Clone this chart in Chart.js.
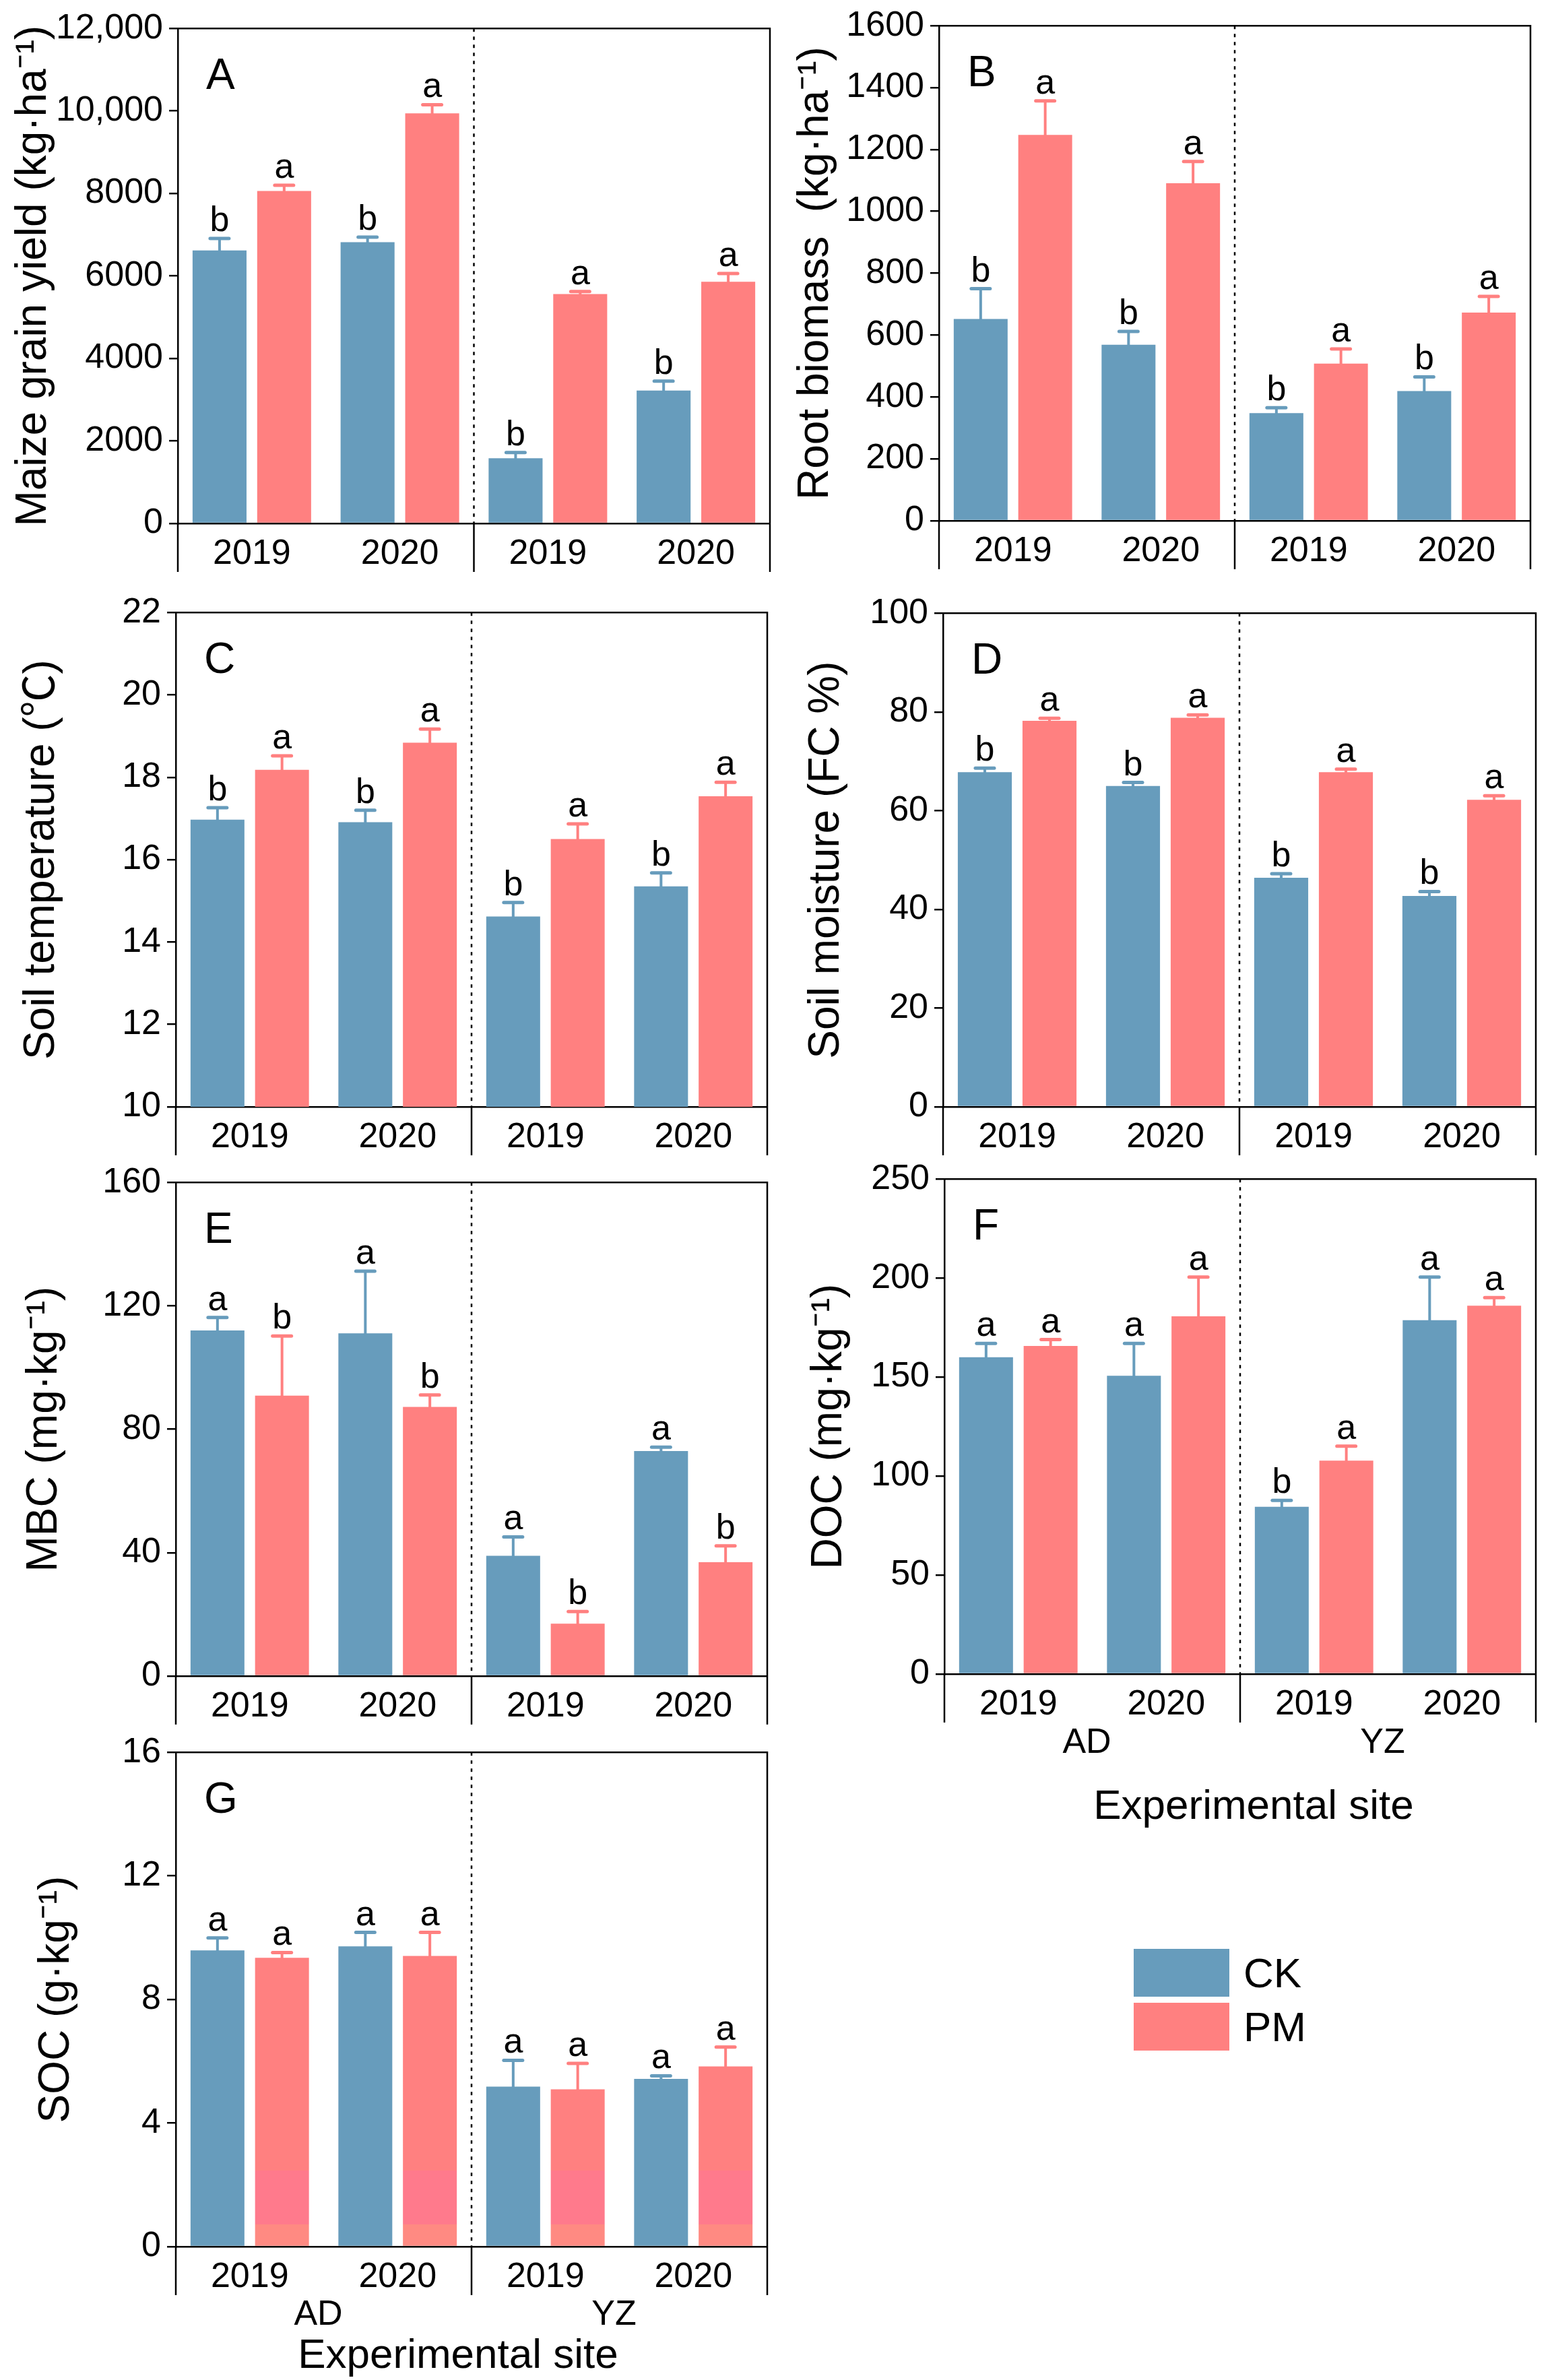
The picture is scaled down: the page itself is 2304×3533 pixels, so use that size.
<!doctype html>
<html lang="en">
<head>
<meta charset="UTF-8">
<title>CK vs PM - maize yield and soil properties</title>
<script src="https://cdn.jsdelivr.net/npm/chart.js"></script>
<style>
    body { margin: 0; background: #fff; }
    #page { position: relative; width: 2304px; height: 3533px; background: #fff; overflow: hidden; }
    #page canvas { position: absolute; }
    .key-box { position: absolute; width: 142px; height: 71px; }
    .key-text { position: absolute; font: 62px 'Liberation Sans', Arial, sans-serif; line-height: 62px; color: #000; }
</style>
</head>
<body>
<div id="page">
    <canvas id="chartA"></canvas>
    <canvas id="chartB"></canvas>
    <canvas id="chartC"></canvas>
    <canvas id="chartD"></canvas>
    <canvas id="chartE"></canvas>
    <canvas id="chartF"></canvas>
    <canvas id="chartG"></canvas>

    <!-- legend -->
    <div class="key-box" style="left:1683px;top:2893px;background:#679CBC"></div>
    <div class="key-box" style="left:1683px;top:2973px;background:#FF8080"></div>
    <div class="key-text" style="left:1846px;top:2898px">CK</div>
    <div class="key-text" style="left:1846px;top:2978px">PM</div>
</div>

<script>
    // ---- data ----
    const years = ['2019', '2020', '2019', '2020'];
    const sites = ['AD', 'YZ'];

    // A  maize grain yield
    const yieldCK = [6620, 6820, 1580, 3220];
    const yieldCKErr = [290, 120, 140, 230];
    const yieldPM = [8060, 9940, 5560, 5860];
    const yieldPMErr = [140, 210, 60, 200];
    const yieldCKSig = ['b', 'b', 'b', 'b'];
    const yieldPMSig = ['a', 'a', 'a', 'a'];
    const yieldTicks = [0, 2000, 4000, 6000, 8000, 10000, 12000];

    // B  root biomass
    const rootCK = [652, 569, 348, 419];
    const rootCKErr = [98, 43, 17, 46];
    const rootPM = [1247, 1091, 508, 673];
    const rootPMErr = [110, 70, 47, 52];
    const rootCKSig = ['b', 'b', 'b', 'b'];
    const rootPMSig = ['a', 'a', 'a', 'a'];
    const rootTicks = [0, 200, 400, 600, 800, 1000, 1200, 1400, 1600];

    // C  soil temperature
    const tempCK = [16.97, 16.91, 14.62, 15.35];
    const tempCKErr = [0.29, 0.29, 0.34, 0.33];
    const tempPM = [18.18, 18.84, 16.50, 17.54];
    const tempPMErr = [0.34, 0.33, 0.37, 0.34];
    const tempCKSig = ['b', 'b', 'b', 'b'];
    const tempPMSig = ['a', 'a', 'a', 'a'];
    const tempTicks = [10, 12, 14, 16, 18, 20, 22];

    // D  soil moisture
    const moistCK = [67.8, 65.0, 46.4, 42.7];
    const moistCKErr = [0.8, 0.7, 0.8, 0.9];
    const moistPM = [78.2, 78.8, 67.8, 62.2];
    const moistPMErr = [0.5, 0.6, 0.6, 0.8];
    const moistCKSig = ['b', 'b', 'b', 'b'];
    const moistPMSig = ['a', 'a', 'a', 'a'];
    const moistTicks = [0, 20, 40, 60, 80, 100];

    // E  MBC
    const mbcCK = [112.0, 111.1, 39.0, 72.9];
    const mbcCKErr = [4.2, 20.1, 6.1, 1.3];
    const mbcPM = [90.9, 87.2, 17.0, 36.9];
    const mbcPMErr = [19.3, 3.9, 3.9, 5.3];
    const mbcCKSig = ['a', 'a', 'a', 'a'];
    const mbcPMSig = ['b', 'b', 'b', 'b'];
    const mbcTicks = [0, 40, 80, 120, 160];

    // F  DOC
    const docCK = [160.0, 150.6, 84.5, 178.7];
    const docCKErr = [7.0, 16.4, 3.2, 21.8];
    const docPM = [165.7, 180.7, 107.8, 186.0];
    const docPMErr = [3.2, 19.8, 7.3, 4.1];
    const docCKSig = ['a', 'a', 'b', 'a'];
    const docPMSig = ['a', 'a', 'a', 'a'];
    const docTicks = [0, 50, 100, 150, 200, 250];

    // G  SOC
    const socCK = [9.59, 9.72, 5.18, 5.43];
    const socCKErr = [0.40, 0.45, 0.85, 0.10];
    const socPM = [9.35, 9.41, 5.09, 5.83];
    const socPMErr = [0.17, 0.76, 0.84, 0.63];
    const socCKSig = ['a', 'a', 'a', 'a'];
    const socPMSig = ['a', 'a', 'a', 'a'];
    const socTicks = [0, 4, 8, 12, 16];

    // ---- look ----
    const FONT = "'Liberation Sans', Arial, 'Noto Sans CJK SC', sans-serif";
    const BLUE = '#679CBC';
    const RED = '#FF8080';
    const LINE = 2.5;

    // error bars + significance letters
    const errorBars = {
        id: 'errorBars',
        afterDatasetsDraw(chart) {
            const ctx = chart.ctx;
            const y = chart.scales.y;
            chart.data.datasets.forEach((ds, i) => {
                chart.getDatasetMeta(i).data.forEach((bar, j) => {
                    const capY = y.getPixelForValue(ds.data[j] + ds.errors[j]);
                    ctx.save();
                    ctx.strokeStyle = ds.barColor;
                    ctx.lineCap = 'round';
                    ctx.lineWidth = 4;
                    ctx.beginPath();
                    ctx.moveTo(bar.x, bar.y);
                    ctx.lineTo(bar.x, capY);
                    ctx.stroke();
                    ctx.lineWidth = 5;
                    ctx.beginPath();
                    ctx.moveTo(bar.x - 14, capY);
                    ctx.lineTo(bar.x + 14, capY);
                    ctx.stroke();
                    ctx.fillStyle = '#000';
                    ctx.font = '52px ' + FONT;
                    ctx.textAlign = 'center';
                    ctx.textBaseline = 'alphabetic';
                    ctx.fillText(ds.sig[j], bar.x, capY - 11);
                    ctx.restore();
                });
            });
        }
    };

    // box, site divider, panel letter, site labels
    const frame = {
        id: 'frame',
        afterDraw(chart, args, opts) {
            const ctx = chart.ctx;
            const a = chart.chartArea;
            const x = chart.scales.x;
            const mid = x.getPixelForValue(1.5);
            ctx.save();
            ctx.strokeStyle = '#000';
            ctx.lineWidth = LINE;
            ctx.beginPath();
            ctx.moveTo(a.left, a.top);
            ctx.lineTo(a.right, a.top);
            ctx.lineTo(a.right, a.bottom);
            ctx.stroke();
            // group dividers below the axis
            [a.left, mid, a.right].forEach(px => {
                ctx.beginPath();
                ctx.moveTo(px, a.bottom);
                ctx.lineTo(px, a.bottom + 72);
                ctx.stroke();
            });
            // dotted separator
            ctx.setLineDash([5, 7]);
            ctx.beginPath();
            ctx.moveTo(mid, a.top);
            ctx.lineTo(mid, a.bottom);
            ctx.stroke();
            ctx.setLineDash([]);

            ctx.fillStyle = '#000';
            ctx.font = '64px ' + FONT;
            ctx.textAlign = 'left';
            ctx.textBaseline = 'middle';
            ctx.fillText(opts.letter, a.left + 42, a.top + 72);

            if (opts.siteLabels) {
                ctx.font = '52px ' + FONT;
                ctx.textAlign = 'center';
                ctx.fillText(sites[0], (a.left + mid) / 2 - 8, a.bottom + opts.siteDy);
                ctx.fillText(sites[1], (mid + a.right) / 2 - 8, a.bottom + opts.siteDy);
                ctx.font = '62px ' + FONT;
                ctx.fillText('Experimental site', (a.left + a.right) / 2 + opts.expDx, a.bottom + opts.expDy);
            }
            ctx.restore();
        }
    };

    // G: the PM bars carry a faint pink band near the base
    function socPMFill(c) {
        const chart = c.chart;
        const y = chart.scales.y;
        if (!chart.chartArea || !y) return RED;
        const y0 = y.getPixelForValue(0);
        const g = chart.ctx.createLinearGradient(0, y0, 0, y.getPixelForValue(16));
        g.addColorStop(0, '#FF8A82');
        g.addColorStop(0.045, '#FF8A82');
        g.addColorStop(0.045, '#FF7A8C');
        g.addColorStop(0.154, '#FF7A8C');
        g.addColorStop(0.154, RED);
        g.addColorStop(1, RED);
        return g;
    }

    function makePanel(p) {
        const canvas = document.getElementById(p.id);
        const y0 = p.T - 40;
        const h = (p.canvasBottom || (p.B + 110)) - y0;
        const x0 = p.L < 1152 ? 0 : 1152;
        canvas.width = 1152;
        canvas.height = h;
        canvas.style.left = x0 + 'px';
        canvas.style.top = y0 + 'px';
        canvas.style.width = '1152px';
        canvas.style.height = h + 'px';
        const xH = 80;

        return new Chart(canvas, {
            type: 'bar',
            data: {
                labels: years,
                datasets: [
                    { label: 'CK', data: p.ck, errors: p.ckErr, sig: p.ckSig,
                      backgroundColor: BLUE, barColor: BLUE },
                    { label: 'PM', data: p.pm, errors: p.pmErr, sig: p.pmSig,
                      backgroundColor: p.pmFill || RED, barColor: RED }
                ]
            },
            options: {
                responsive: false,
                animation: false,
                devicePixelRatio: 1,
                categoryPercentage: 0.873,
                barPercentage: 0.835,
                layout: {
                    autoPadding: false,
                    padding: { left: 0, top: p.T - y0, right: x0 + 1152 - p.R, bottom: h - (p.B - y0) - xH }
                },
                plugins: {
                    legend: { display: false },
                    tooltip: { enabled: false },
                    frame: { letter: p.letter, siteLabels: p.siteLabels, siteDy: p.siteDy, expDy: p.expDy, expDx: p.expDx }
                },
                scales: {
                    x: {
                        grid: { display: false },
                        border: { display: true, color: '#000', width: LINE },
                        ticks: { color: '#000', font: { family: FONT, size: 52 }, padding: 6, maxRotation: 0, autoSkip: false },
                        afterFit: s => { s.height = xH; }
                    },
                    y: {
                        min: p.ticks[0],
                        max: p.ticks[p.ticks.length - 1],
                        afterBuildTicks: s => { s.ticks = p.ticks.map(v => ({ value: v })); },
                        grid: { drawOnChartArea: false, drawTicks: true, tickLength: 13, color: '#000', lineWidth: LINE },
                        border: { display: true, color: '#000', width: LINE },
                        ticks: {
                            color: '#000', padding: 9, font: { family: FONT, size: 52 },
                            callback: v => v >= 10000 ? v.toLocaleString('en-US') : v
                        },
                        title: {
                            display: true, text: p.title, color: '#000',
                            font: { family: FONT, size: 64, lineHeight: 1.2 },
                            padding: { top: p.titleX - x0 - 38.4, bottom: 0 }
                        },
                        afterFit: s => { s.width = p.L - x0; }
                    }
                }
            },
            plugins: [errorBars, frame]
        });
    }

    makePanel({ id: 'chartA', letter: 'A', L: 264, R: 1143, T: 42, B: 777, titleX: 50,
        title: 'Maize grain yield (kg\u00B7ha\u207B\u00B9)', ticks: yieldTicks,
        ck: yieldCK, ckErr: yieldCKErr, ckSig: yieldCKSig, pm: yieldPM, pmErr: yieldPMErr, pmSig: yieldPMSig });

    makePanel({ id: 'chartB', letter: 'B', L: 1394, R: 2272, T: 38, B: 773, titleX: 1211,
        title: 'Root biomass  (kg\u00B7ha\u207B\u00B9)', ticks: rootTicks,
        ck: rootCK, ckErr: rootCKErr, ckSig: rootCKSig, pm: rootPM, pmErr: rootPMErr, pmSig: rootPMSig });

    makePanel({ id: 'chartC', letter: 'C', L: 261, R: 1139, T: 909, B: 1643, titleX: 62,
        title: 'Soil temperature (\u2103)', ticks: tempTicks,
        ck: tempCK, ckErr: tempCKErr, ckSig: tempCKSig, pm: tempPM, pmErr: tempPMErr, pmSig: tempPMSig });

    makePanel({ id: 'chartD', letter: 'D', L: 1400, R: 2280, T: 910, B: 1643, titleX: 1227,
        title: 'Soil moisture (FC %)', ticks: moistTicks,
        ck: moistCK, ckErr: moistCKErr, ckSig: moistCKSig, pm: moistPM, pmErr: moistPMErr, pmSig: moistPMSig });

    makePanel({ id: 'chartE', letter: 'E', L: 261, R: 1139, T: 1755, B: 2488, titleX: 66,
        title: 'MBC (mg\u00B7kg\u207B\u00B9)', ticks: mbcTicks,
        ck: mbcCK, ckErr: mbcCKErr, ckSig: mbcCKSig, pm: mbcPM, pmErr: mbcPMErr, pmSig: mbcPMSig });

    makePanel({ id: 'chartF', letter: 'F', L: 1402, R: 2280, T: 1750, B: 2485, titleX: 1231,
        title: 'DOC (mg\u00B7kg\u207B\u00B9)', ticks: docTicks, canvasBottom: 2740,
        siteLabels: true, siteDy: 103, expDy: 198, expDx: 20,
        ck: docCK, ckErr: docCKErr, ckSig: docCKSig, pm: docPM, pmErr: docPMErr, pmSig: docPMSig });

    makePanel({ id: 'chartG', letter: 'G', L: 261, R: 1139, T: 2601, B: 3335, titleX: 84,
        title: 'SOC (g\u00B7kg\u207B\u00B9)', ticks: socTicks, canvasBottom: 3533,
        siteLabels: true, siteDy: 102, expDy: 163, expDx: -20, pmFill: socPMFill,
        ck: socCK, ckErr: socCKErr, ckSig: socCKSig, pm: socPM, pmErr: socPMErr, pmSig: socPMSig });
</script>
</body>
</html>
